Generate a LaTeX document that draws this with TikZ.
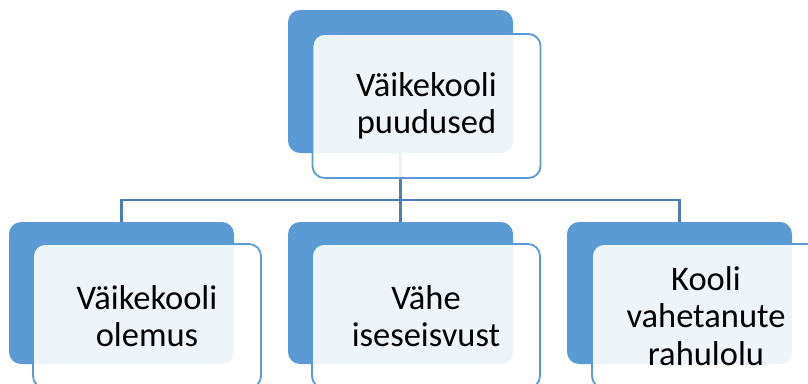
\documentclass[tikz,border=0pt]{standalone}
\usepackage{fontspec}
\setmainfont{Carlito}
\definecolor{accent}{HTML}{5B9BD5}
\definecolor{linkblue}{HTML}{4A7EB5}
\begin{document}
\begin{tikzpicture}[x=1pt,y=-1pt,
  backbox/.style={fill=accent, draw=none, rounded corners=12pt,
    minimum width=225pt, minimum height=142pt, inner sep=0pt, outer sep=0pt},
  frontbox/.style={fill=white, fill opacity=0.9, text opacity=1,
    draw=accent, line width=1.8pt, rounded corners=12pt,
    minimum width=228pt, minimum height=144pt, inner sep=0pt, outer sep=0pt,
    align=center, font=\fontsize{34.5}{37.5}\selectfont},
  link/.style={draw=linkblue, line width=2.2pt}]
\useasboundingbox (0,0) rectangle (808,383);

% the horizontal bus joining the root to its children
\coordinate (bus) at (400.5,200);

% connectors, drawn first so the panels sit on top
\coordinate (p0) at (400.5,153);
\coordinate (p1) at (121.5,222);
\coordinate (p2) at (400.5,222);
\coordinate (p3) at (679.5,222);
\draw[link] (p0) -- (bus);
\draw[link] (p1) |- (bus) -| (p3);
\draw[link] (bus) -- (p2);

% root
\node[backbox, minimum height=143pt] (d0) at (400.5,81.5) {};
\node[frontbox] (f0) at (426.5,106) {Väikekooli\\puudused};

% children
\node[backbox] (d1) at (121.5,293) {};
\node[frontbox] (f1) at (147,316) {Väikekooli\\olemus};

\node[backbox] (d2) at (400.5,293) {};
\node[frontbox] (f2) at (426,316) {Vähe\\iseseisvust};

\node[backbox] (d3) at (679.5,293) {};
\node[frontbox] (f3) at (706,316) {Kooli\\vahetanute\\rahulolu};
\end{tikzpicture}
\end{document}
